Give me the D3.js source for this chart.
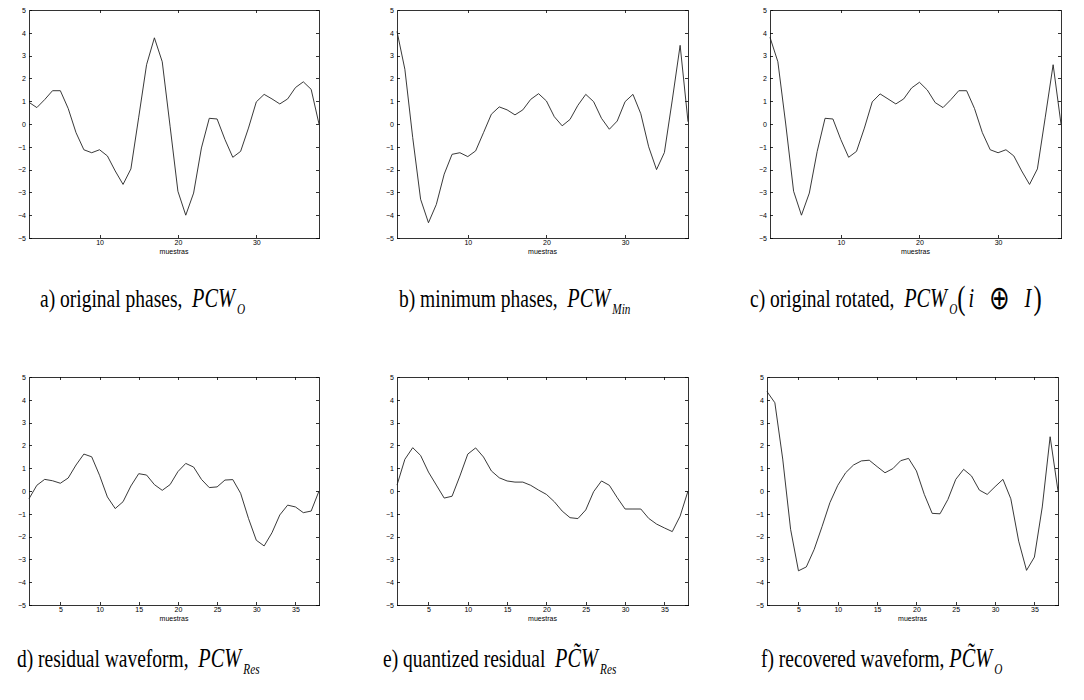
<!DOCTYPE html>
<html lang="en">
<head>
<meta charset="utf-8">
<title>PCW phases</title>
<script src="https://cdn.jsdelivr.net/npm/d3@7"></script>
<style>
  body { margin: 0; background: #fff; }
  .axis path, .axis line { stroke: #000; stroke-width: 0.8; shape-rendering: crispEdges; }
  .axis text { font-family: "Liberation Sans", Arial, sans-serif; font-size: 7px; fill: #000; }
  .wave { fill: none; stroke: #222; stroke-width: 0.9; }
  .xlab { font-family: "Liberation Sans", Arial, sans-serif; font-size: 7px; }
  .cap text { font-family: "Liberation Serif", "Times New Roman", serif; fill: #000; white-space: pre; }
</style>
</head>
<body>
<script>
// samples 1..38
var samples = d3.range(1, 39);
var yTicks = [-5, -4, -3, -2, -1, 0, 1, 2, 3, 4, 5];
var xTicksTop = [10, 20, 30];
var xTicksBottom = [5, 10, 15, 20, 25, 30, 35];

// a) original phases
var origPhases = [0.95, 0.72, 1.07, 1.46, 1.46, 0.68, -0.38, -1.13, -1.26, -1.13,
  -1.40, -2.06, -2.65, -1.97, 0.30, 2.60, 3.78, 2.73, -0.10, -2.95,
  -4.00, -3.03, -1.05, 0.25, 0.22, -0.68, -1.46, -1.20, -0.18, 0.97,
  1.30, 1.10, 0.88, 1.10, 1.60, 1.85, 1.52, 0.00];
// b) minimum phases
var minPhases = [4.06, 2.40, -0.60, -3.30, -4.33, -3.53, -2.20, -1.33, -1.26, -1.43,
  -1.18, -0.38, 0.43, 0.75, 0.62, 0.40, 0.62, 1.08, 1.33, 1.01,
  0.32, -0.08, 0.20, 0.82, 1.30, 0.98, 0.25, -0.23, 0.13, 0.98,
  1.30, 0.45, -1.00, -2.00, -1.25, 1.05, 3.45, 0.10];
// c) original rotated
var origRotated = [3.80, 2.73, 0.00, -2.95, -4.00, -3.03, -1.20, 0.25, 0.22, -0.68,
  -1.46, -1.20, -0.18, 0.97, 1.32, 1.10, 0.88, 1.10, 1.58, 1.83,
  1.49, 0.94, 0.72, 1.07, 1.46, 1.46, 0.68, -0.38, -1.13, -1.26,
  -1.13, -1.40, -2.06, -2.65, -1.97, 0.30, 2.60, 0.00];
// d) residual waveform
var residual = [-0.34, 0.25, 0.51, 0.45, 0.34, 0.57, 1.14, 1.62, 1.50, 0.69,
  -0.26, -0.77, -0.47, 0.22, 0.76, 0.70, 0.28, 0.03, 0.28, 0.85,
  1.21, 1.05, 0.51, 0.15, 0.18, 0.48, 0.50, -0.10, -1.20, -2.16,
  -2.41, -1.83, -1.05, -0.62, -0.70, -0.95, -0.88, 0.00];
// e) quantized residual
var quantResidual = [0.26, 1.39, 1.90, 1.56, 0.83, 0.26, -0.31, -0.23, 0.66, 1.62,
  1.89, 1.49, 0.88, 0.58, 0.44, 0.39, 0.39, 0.25, 0.04, -0.15,
  -0.47, -0.88, -1.17, -1.21, -0.83, -0.03, 0.44, 0.25, -0.29, -0.79,
  -0.79, -0.79, -1.20, -1.45, -1.62, -1.78, -1.10, 0.00];
// f) recovered waveform
var recovered = [4.36, 3.87, 1.40, -1.68, -3.50, -3.33, -2.56, -1.56, -0.51, 0.25,
  0.80, 1.14, 1.32, 1.35, 1.07, 0.80, 0.98, 1.33, 1.43, 0.88,
  -0.15, -0.98, -1.00, -0.37, 0.51, 0.95, 0.66, 0.04, -0.15, 0.19,
  0.51, -0.34, -2.20, -3.48, -2.90, -0.70, 2.38, 0.00];

// caption pieces: [text, kind]  0 = roman, 1 = italic, 2 = italic subscript, 3 = math roman
var capA = [["a) original phases,  ", 0], ["PCW", 1], ["O", 2]];
var capB = [["b) minimum phases,  ", 0], ["PCW", 1], ["Min", 2]];
var capC = [["c) original rotated,  ", 0], ["PCW", 1], ["O", 2], ["(", 3], ["i", 1], ["\u2002\u2295\u2002", 3], ["I", 1], [")", 3]];
var capD = [["d) residual waveform,  ", 0], ["PCW", 1], ["Res", 2]];
var capE = [["e) quantized residual  ", 0], ["PC\u0303W", 1], ["Res", 2]];
var capF = [["f) recovered waveform, ", 0], ["PC\u0303W", 1], ["O", 2]];

var w = 1084, h = 700;
var svg = d3.select("body").append("svg").attr("width", w).attr("height", h);

var panels = [
  {data: origPhases, xt: xTicksTop, x0: 29, x1: 319, y0: 10, y1: 238, cap: capA, cx: 40, cy: 307},
  {data: minPhases, xt: xTicksTop, x0: 397, x1: 688, y0: 10, y1: 238, cap: capB, cx: 399, cy: 307},
  {data: origRotated, xt: xTicksTop, x0: 770, x1: 1061, y0: 10, y1: 238, cap: capC, cx: 750, cy: 307},
  {data: residual, xt: xTicksBottom, x0: 29, x1: 319, y0: 377, y1: 605, cap: capD, cx: 17, cy: 667},
  {data: quantResidual, xt: xTicksBottom, x0: 397, x1: 688, y0: 377, y1: 605, cap: capE, cx: 383, cy: 667},
  {data: recovered, xt: xTicksBottom, x0: 767, x1: 1058, y0: 377, y1: 605, cap: capF, cx: 761, cy: 667}
];

panels.forEach(function(p) {
  var xScale = d3.scaleLinear().domain([1, 38]).range([p.x0, p.x1]);
  var yScale = d3.scaleLinear().domain([-5, 5]).range([p.y1, p.y0]);

  // bottom + left with labels, top + right mirrored
  svg.append("g").attr("class", "axis")
    .attr("transform", "translate(0," + p.y1 + ")")
    .call(d3.axisBottom(xScale).tickValues(p.xt).tickSize(-3).tickSizeOuter(0).tickPadding(2));
  svg.append("g").attr("class", "axis")
    .attr("transform", "translate(" + p.x0 + ",0)")
    .call(d3.axisLeft(yScale).tickValues(yTicks).tickSize(-3).tickSizeOuter(0).tickPadding(3));
  svg.append("g").attr("class", "axis")
    .attr("transform", "translate(0," + p.y0 + ")")
    .call(d3.axisTop(xScale).tickValues(p.xt).tickSize(-3).tickSizeOuter(0).tickFormat(""));
  svg.append("g").attr("class", "axis")
    .attr("transform", "translate(" + p.x1 + ",0)")
    .call(d3.axisRight(yScale).tickValues(yTicks).tickSize(-3).tickSizeOuter(0).tickFormat(""));

  svg.append("text").attr("class", "xlab")
    .attr("x", (p.x0 + p.x1) / 2).attr("y", p.y1 + 16)
    .attr("text-anchor", "middle").text("muestras");

  var line = d3.line()
    .x(function(d, i) { return xScale(samples[i]); })
    .y(function(d) { return yScale(d); });

  svg.append("path").datum(p.data).attr("class", "wave").attr("d", line);

  // caption: tall, narrow serif (squeezed horizontally)
  var g = svg.append("g").attr("class", "cap")
    .attr("transform", "translate(" + p.cx + "," + p.cy + ") scale(0.75,1)");
  var cursor = 0;
  p.cap.forEach(function(c) {
    var t = g.append("text").attr("x", cursor).attr("y", 0).text(c[0]);
    if (c[1] == 0) t.attr("font-size", 26);
    if (c[1] == 1) t.attr("font-size", 27).style("font-style", "italic");
    if (c[1] == 2) t.attr("font-size", 15).style("font-style", "italic").attr("y", 7);
    if (c[1] == 3) t.attr("font-size", 33).attr("y", 2).style("font-weight", 300);
    cursor += t.node().getComputedTextLength() + (c[1] == 1 ? 3 : (c[1] == 3 ? 4 : 0));
  });
});
</script>
</body>
</html>
